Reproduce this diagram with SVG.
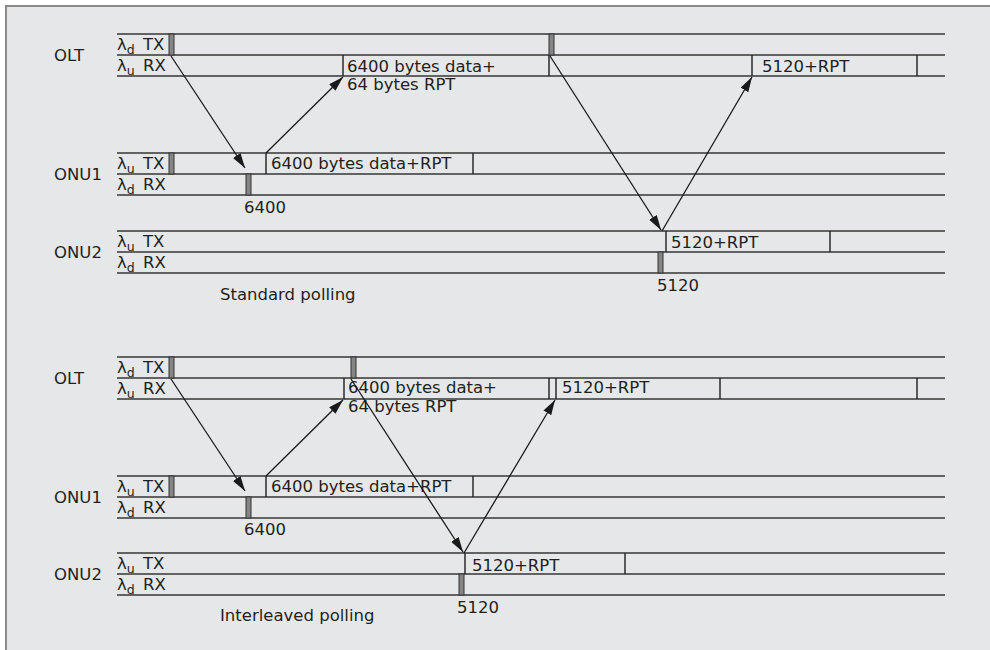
<svg xmlns="http://www.w3.org/2000/svg" width="990" height="650" viewBox="0 0 990 650">
<style>
text{font-family:"DejaVu Sans","Liberation Sans",sans-serif;font-size:16.5px;fill:#231f20}
.sub{font-size:12.5px}
.h{stroke:#363636;stroke-width:1.7;fill:none}
.v{stroke:#2a2a2a;stroke-width:1.5;fill:none}
.bar{fill:#858585;stroke:#333;stroke-width:1}
.arr{stroke:#1a1a1a;stroke-width:1.3;fill:none;marker-end:url(#ah)}
</style>
<defs>
<marker id="ah" markerUnits="userSpaceOnUse" markerWidth="16" markerHeight="10" refX="15" refY="4.5" orient="auto">
<path d="M0,0 L15,4.5 L0,9 z" fill="#1a1a1a"/>
</marker>
</defs>
<rect x="0" y="0" width="990" height="650" fill="#ffffff"/>
<rect x="6" y="6" width="1000" height="660" fill="#e6e7e9" stroke="#8a8a8a" stroke-width="2"/>

<!-- ===== Standard polling ===== -->
<g id="std-olt">
<text x="54" y="61">OLT</text>
<line class="h" x1="117" y1="34" x2="945" y2="34"/>
<line class="h" x1="117" y1="55" x2="945" y2="55"/>
<line class="h" x1="117" y1="76" x2="945" y2="76"/>
<text x="117" y="50">λ<tspan class="sub" dy="4">d</tspan></text><text x="143" y="50">TX</text>
<text x="117" y="71">λ<tspan class="sub" dy="4">u</tspan></text><text x="143" y="71">RX</text>
<rect class="bar" x="169" y="34" width="5" height="21"/>
<rect class="bar" x="549" y="34" width="5" height="21"/>
<line class="v" x1="343" y1="55" x2="343" y2="76"/>
<line class="v" x1="549" y1="55" x2="549" y2="76"/>
<line class="v" x1="752" y1="55" x2="752" y2="76"/>
<line class="v" x1="917" y1="55" x2="917" y2="76"/>
<text x="347" y="72">6400 bytes data+</text>
<text x="347" y="90">64 bytes RPT</text>
<text x="762" y="72">5120+RPT</text>
</g>
<g id="std-onu1">
<text x="54" y="180">ONU1</text>
<line class="h" x1="117" y1="153" x2="945" y2="153"/>
<line class="h" x1="117" y1="174" x2="945" y2="174"/>
<line class="h" x1="117" y1="195" x2="945" y2="195"/>
<text x="117" y="169">λ<tspan class="sub" dy="4">u</tspan></text><text x="143" y="169">TX</text>
<text x="117" y="190">λ<tspan class="sub" dy="4">d</tspan></text><text x="143" y="190">RX</text>
<rect class="bar" x="169" y="153" width="5" height="21"/>
<rect class="bar" x="246" y="174" width="5" height="21"/>
<line class="v" x1="266" y1="153" x2="266" y2="174"/>
<line class="v" x1="473" y1="153" x2="473" y2="174"/>
<text x="271" y="169">6400 bytes data+RPT</text>
<text x="244" y="213">6400</text>
</g>
<g id="std-onu2">
<text x="54" y="258">ONU2</text>
<line class="h" x1="117" y1="231" x2="945" y2="231"/>
<line class="h" x1="117" y1="252" x2="945" y2="252"/>
<line class="h" x1="117" y1="273" x2="945" y2="273"/>
<text x="117" y="247">λ<tspan class="sub" dy="4">u</tspan></text><text x="143" y="247">TX</text>
<text x="117" y="268">λ<tspan class="sub" dy="4">d</tspan></text><text x="143" y="268">RX</text>
<rect class="bar" x="658" y="252" width="5" height="21"/>
<line class="v" x1="666" y1="231" x2="666" y2="252"/>
<line class="v" x1="830" y1="231" x2="830" y2="252"/>
<text x="671" y="248">5120+RPT</text>
<text x="657" y="291">5120</text>
</g>
<text x="220" y="300">Standard polling</text>

<!-- ===== Interleaved polling ===== -->
<g id="int-olt">
<text x="54" y="384">OLT</text>
<line class="h" x1="117" y1="357" x2="945" y2="357"/>
<line class="h" x1="117" y1="378" x2="945" y2="378"/>
<line class="h" x1="117" y1="399" x2="945" y2="399"/>
<text x="117" y="373">λ<tspan class="sub" dy="4">d</tspan></text><text x="143" y="373">TX</text>
<text x="117" y="394">λ<tspan class="sub" dy="4">u</tspan></text><text x="143" y="394">RX</text>
<rect class="bar" x="169" y="357" width="5" height="21"/>
<rect class="bar" x="351" y="357" width="5" height="21"/>
<line class="v" x1="344" y1="378" x2="344" y2="399"/>
<line class="v" x1="549" y1="378" x2="549" y2="399"/>
<line class="v" x1="556" y1="378" x2="556" y2="399"/>
<line class="v" x1="720" y1="378" x2="720" y2="399"/>
<line class="v" x1="917" y1="378" x2="917" y2="399"/>
<text x="348" y="393">6400 bytes data+</text>
<text x="348" y="412">64 bytes RPT</text>
<text x="562" y="393">5120+RPT</text>
</g>
<g id="int-onu1">
<text x="54" y="503">ONU1</text>
<line class="h" x1="117" y1="476" x2="945" y2="476"/>
<line class="h" x1="117" y1="497" x2="945" y2="497"/>
<line class="h" x1="117" y1="518" x2="945" y2="518"/>
<text x="117" y="492">λ<tspan class="sub" dy="4">u</tspan></text><text x="143" y="492">TX</text>
<text x="117" y="513">λ<tspan class="sub" dy="4">d</tspan></text><text x="143" y="513">RX</text>
<rect class="bar" x="169" y="476" width="5" height="21"/>
<rect class="bar" x="246" y="497" width="5" height="21"/>
<line class="v" x1="266" y1="476" x2="266" y2="497"/>
<line class="v" x1="473" y1="476" x2="473" y2="497"/>
<text x="271" y="492">6400 bytes data+RPT</text>
<text x="244" y="535">6400</text>
</g>
<g id="int-onu2">
<text x="54" y="580">ONU2</text>
<line class="h" x1="117" y1="553" x2="945" y2="553"/>
<line class="h" x1="117" y1="574" x2="945" y2="574"/>
<line class="h" x1="117" y1="595" x2="945" y2="595"/>
<text x="117" y="569">λ<tspan class="sub" dy="4">u</tspan></text><text x="143" y="569">TX</text>
<text x="117" y="590">λ<tspan class="sub" dy="4">d</tspan></text><text x="143" y="590">RX</text>
<rect class="bar" x="459" y="574" width="5" height="21"/>
<line class="v" x1="465" y1="553" x2="465" y2="574"/>
<line class="v" x1="625" y1="553" x2="625" y2="574"/>
<text x="472" y="571">5120+RPT</text>
<text x="457" y="613">5120</text>
</g>
<text x="220" y="621">Interleaved polling</text>

<g id="connectors">
<line class="arr" x1="171" y1="56" x2="245" y2="168"/>
<line class="arr" x1="266" y1="153" x2="343" y2="77"/>
<line class="arr" x1="550" y1="56" x2="661" y2="230"/>
<line class="arr" x1="662" y1="231" x2="752" y2="77"/>
<line class="arr" x1="171" y1="379" x2="245" y2="491"/>
<line class="arr" x1="266" y1="476" x2="343" y2="400"/>
<line class="arr" x1="351" y1="379" x2="463" y2="552"/>
<line class="arr" x1="464" y1="553" x2="555" y2="400"/>
</g>
</svg>
